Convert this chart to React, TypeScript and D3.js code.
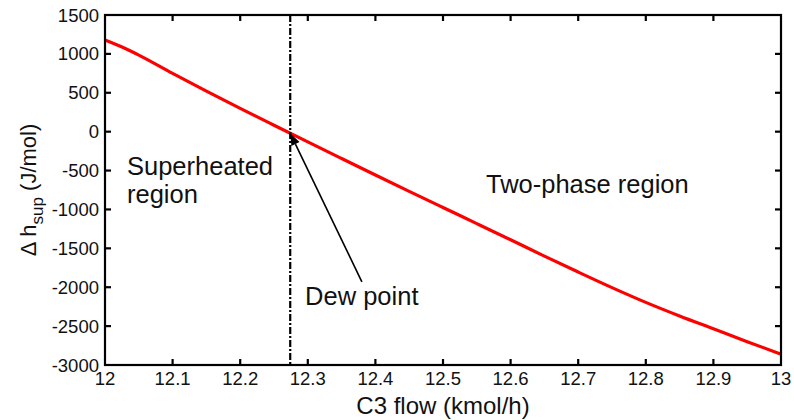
import React from "react";
import * as d3 from "d3";

// C3 flow (kmol/h) and the superheat enthalpy difference (J/mol)
const c3Flow = [
  12.0, 12.03, 12.05, 12.1, 12.15, 12.2, 12.25, 12.3, 12.35, 12.4, 12.45,
  12.5, 12.55, 12.6, 12.65, 12.7, 12.75, 12.8, 12.85, 12.9, 12.95, 13.0,
];
const deltaHSup = [
  1180, 1070, 985, 750, 522, 300, 83, -132, -345, -557, -767, -975, -1182,
  -1390, -1600, -1805, -2005, -2195, -2370, -2535, -2700, -2860,
];
const xTicks = [12, 12.1, 12.2, 12.3, 12.4, 12.5, 12.6, 12.7, 12.8, 12.9, 13];
const xTickLabels = ["12", "12.1", "12.2", "12.3", "12.4", "12.5", "12.6", "12.7", "12.8", "12.9", "13"];
const yTicks = [-3000, -2500, -2000, -1500, -1000, -500, 0, 500, 1000, 1500];
const dewPointFlow = 12.274;

const W = 794;
const H = 420;
const M = { left: 105, right: 13, top: 15, bottom: 55 };
const FONT = "'Liberation Sans', Arial, Helvetica, sans-serif";

export default function App() {
  const x = d3.scaleLinear().domain([12, 13]).range([M.left, W - M.right]);
  const y = d3.scaleLinear().domain([-3000, 1500]).range([H - M.bottom, M.top]);
  const x0 = M.left;
  const x1 = W - M.right;
  const y0 = H - M.bottom;
  const y1 = M.top;
  const tick = 6;

  const line = d3
    .line<number>()
    .x((_, i) => x(c3Flow[i]))
    .y((d) => y(d))
    .curve(d3.curveMonotoneX);

  const dewY = d3.scaleLinear().domain(c3Flow).range(deltaHSup)(dewPointFlow);
  const tipX = x(dewPointFlow);
  const tipY = y(dewY);
  const tailX = x(12.38);
  const tailY = y(-1930);
  const ang = Math.atan2(tipY - tailY, tipX - tailX);
  const headLen = 12;
  const headW = 4.5;
  const bx = tipX - headLen * Math.cos(ang);
  const by = tipY - headLen * Math.sin(ang);
  const head = [
    [tipX, tipY],
    [bx + headW * Math.sin(ang), by - headW * Math.cos(ang)],
    [bx - headW * Math.sin(ang), by + headW * Math.cos(ang)],
  ]
    .map((p) => p.join(","))
    .join(" ");

  return (
    <svg
      width={W}
      height={H}
      style={{ position: "absolute", left: 0, top: 0, background: "#fff" }}
      fontFamily={FONT}
    >
      <rect width={W} height={H} fill="#fff" />
      {/* curve */}
      <path d={line(deltaHSup) || ""} fill="none" stroke="#ff0000" strokeWidth={3.2} />

      {/* dew point marker line */}
      <line
        x1={x(dewPointFlow)}
        x2={x(dewPointFlow)}
        y1={y1}
        y2={y0}
        stroke="#000"
        strokeWidth={2.2}
        strokeDasharray="7,2,2,2"
      />

      {/* annotation arrow */}
      <line x1={tailX} y1={tailY} x2={bx} y2={by} stroke="#000" strokeWidth={1.6} />
      <polygon points={head} fill="#000" />

      {/* frame with inward ticks on all sides */}
      <rect x={x0} y={y1} width={x1 - x0} height={y0 - y1} fill="none" stroke="#000" strokeWidth={2.2} />
      {xTicks.slice(1, -1).map((t) => (
        <g key={"xt" + t}>
          <line x1={x(t)} x2={x(t)} y1={y0} y2={y0 - tick} stroke="#000" strokeWidth={2.2} />
          <line x1={x(t)} x2={x(t)} y1={y1} y2={y1 + tick} stroke="#000" strokeWidth={2.2} />
        </g>
      ))}
      {yTicks.slice(1, -1).map((t) => (
        <g key={"yt" + t}>
          <line x1={x0} x2={x0 + tick} y1={y(t)} y2={y(t)} stroke="#000" strokeWidth={2.2} />
          <line x1={x1} x2={x1 - tick} y1={y(t)} y2={y(t)} stroke="#000" strokeWidth={2.2} />
        </g>
      ))}

      {/* tick labels */}
      {xTicks.map((t, i) => (
        <text key={"xl" + t} x={x(t)} y={y0 + 20} fontSize={18.5} textAnchor="middle" fill="#111">
          {xTickLabels[i]}
        </text>
      ))}
      {yTicks.map((t) => (
        <text
          key={"yl" + t}
          x={x0 - 6}
          y={y(t)}
          fontSize={18.5}
          textAnchor="end"
          dominantBaseline="central"
          fill="#111"
        >
          {t}
        </text>
      ))}

      {/* axis titles */}
      <text x={(x0 + x1) / 2} y={414} fontSize={24} textAnchor="middle" fill="#111">
        C3 flow (kmol/h)
      </text>
      <text
        transform={`translate(36,${(y0 + y1) / 2}) rotate(-90)`}
        fontSize={22}
        textAnchor="middle"
        fill="#111"
      >
        <tspan>Δ h</tspan>
        <tspan fontSize={17} dy={7}>sup</tspan>
        <tspan dy={-7}> (J/mol)</tspan>
      </text>

      {/* region annotations */}
      <text x={127} y={175} fontSize={25.5} fill="#111">Superheated</text>
      <text x={127} y={203} fontSize={25.5} fill="#111">region</text>
      <text x={486} y={193} fontSize={25.5} fill="#111">Two-phase region</text>
      <text x={x(12.296)} y={y(-2228)} fontSize={25.5} fill="#111">Dew point</text>
    </svg>
  );
}
